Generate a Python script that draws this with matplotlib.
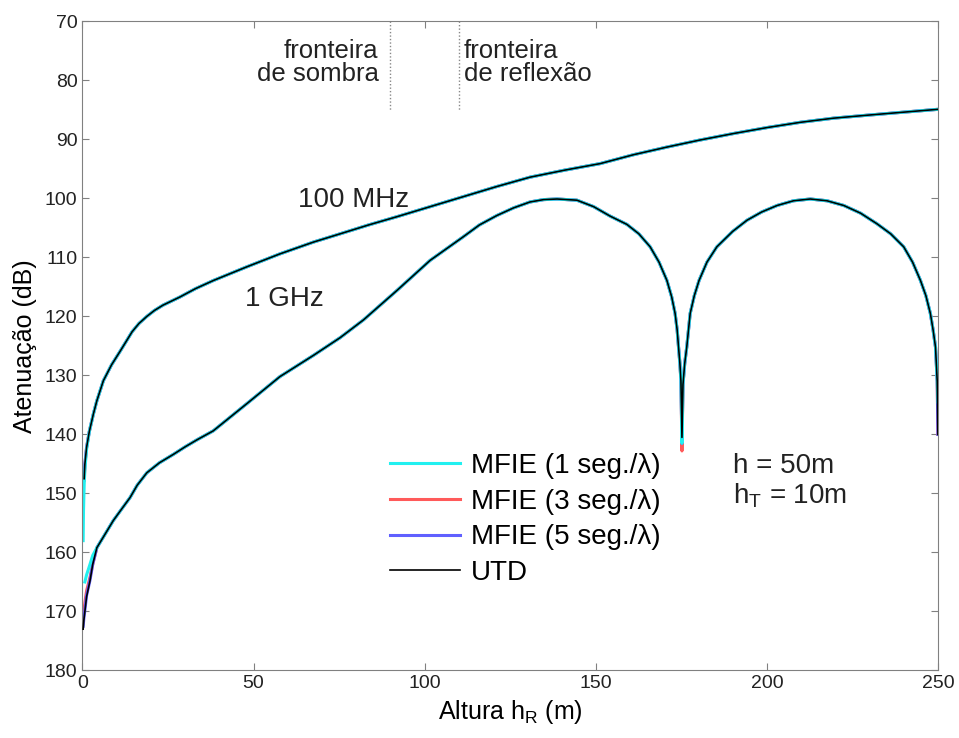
import numpy as np
import matplotlib
matplotlib.use("Agg")
from matplotlib import pyplot as plt

plt.rcParams['font.family'] = ['Liberation Sans', 'DejaVu Sans']
plt.rcParams['mathtext.fontset'] = 'custom'
plt.rcParams['mathtext.rm'] = 'Liberation Sans'
plt.rcParams['mathtext.it'] = 'Liberation Sans'

nan = np.nan

# 100 MHz - altura do receptor (m) e atenuação (dB)
h_100 = [0.2, 0.3, 0.5, 0.7, 1.2, 2.0, 3.2, 4.2, 6.1, 8.5, 11.0, 12.7, 14.5, 16.5,
         18.8, 21.0, 23.5, 28.5, 33.0, 38.3, 48.0, 57.7, 67.5, 75.3, 83.6, 91.9,
         101.6, 111.3, 121.0, 130.8, 141.0, 151.3, 161.0, 170.8, 180.5, 190.3,
         200.0, 209.8, 219.5, 229.3, 239.6, 250.0]
att_100_utd = [nan, nan, 147.5, 145.0, 142.2, 139.5, 136.5, 134.3, 130.9, 128.2,
               125.9, 124.3, 122.6, 121.2, 120.0, 119.0, 118.1, 116.7, 115.3, 113.9,
               111.6, 109.4, 107.4, 106.0, 104.5, 103.1, 101.4, 99.7, 98.0, 96.4,
               95.2, 94.1, 92.6, 91.3, 90.1, 89.0, 88.0, 87.1, 86.4, 85.9, 85.4, 84.9]
att_100_mfie1 = [158.0, 153.0, 148.5, 146.0, 142.5, 139.5, 136.5, 134.3, 130.9, 128.2,
                 125.9, 124.3, 122.6, 121.2, 120.0, 119.0, 118.1, 116.7, 115.3, 113.9,
                 111.6, 109.4, 107.4, 106.0, 104.5, 103.1, 101.4, 99.7, 98.0, 96.4,
                 95.2, 94.1, 92.6, 91.3, 90.1, 89.0, 88.0, 87.1, 86.4, 85.9, 85.4, 84.9]
att_100_mfie3 = [nan, nan, 147.8, 145.2, 142.2, 139.5, 136.5, 134.3, 130.9, 128.2,
                 125.9, 124.3, 122.6, 121.2, 120.0, 119.0, 118.1, 116.7, 115.3, 113.9,
                 111.6, 109.4, 107.4, 106.0, 104.5, 103.1, 101.4, 99.7, 98.0, 96.4,
                 95.2, 94.1, 92.6, 91.3, 90.1, 89.0, 88.0, 87.1, 86.4, 85.9, 85.4, 84.9]
att_100_mfie5 = [nan, nan, 147.5, 145.0, 142.2, 139.5, 136.5, 134.3, 130.9, 128.2,
                 125.9, 124.3, 122.6, 121.2, 120.0, 119.0, 118.1, 116.7, 115.3, 113.9,
                 111.6, 109.4, 107.4, 106.0, 104.5, 103.1, 101.4, 99.7, 98.0, 96.4,
                 95.2, 94.1, 92.6, 91.3, 90.1, 89.0, 88.0, 87.1, 86.4, 85.9, 85.4, 84.9]

# 1 GHz
h_1g = [0.2, 0.4, 0.7, 1.2, 2.2, 3.0, 4.2, 6.5, 9.0, 11.5, 13.9, 16.0, 18.8, 22.5,
        26.5, 30.0, 33.5, 38.2, 48.0, 57.7, 67.5, 75.3, 82.1, 91.9, 101.6, 111.3,
        116.0, 121.1, 126.0, 130.8, 134.8, 138.7, 144.5, 149.4, 154.2, 159.1,
        162.6, 165.9, 168.5, 170.8, 172.2, 173.2, 173.8, 174.2, 174.6, 174.9,
        175.2, 175.5, 176.0, 176.6, 177.6, 178.8, 180.2, 182.5, 185.4, 190.0,
        194.2, 198.5, 203.0, 207.8, 212.7, 217.6, 222.5, 227.4, 232.2, 236.2,
        240.0, 242.6, 244.9, 246.5, 247.8, 248.6, 249.3, 249.8, 250.0]
att_1g_utd = [173.0, 171.5, 170.0, 167.5, 164.8, 162.0, 159.2, 157.0, 154.6, 152.6,
              150.7, 148.6, 146.5, 144.8, 143.4, 142.1, 140.9, 139.4, 134.8, 130.2,
              126.6, 123.6, 120.6, 115.6, 110.5, 106.5, 104.5, 102.9, 101.6, 100.6,
              100.2, 100.1, 100.3, 101.4, 103.0, 104.4, 106.0, 108.2, 110.8, 113.9,
              116.7, 119.5, 122.3, 125.2, 128.0, 130.9, 140.5, 131.5, 128.0, 125.2,
              119.5, 116.5, 113.9, 110.8, 108.2, 105.6, 103.7, 102.3, 101.2, 100.4,
              100.1, 100.4, 101.2, 102.5, 104.3, 106.0, 108.2, 110.8, 113.9, 116.5,
              119.5, 122.3, 125.2, 131.0, 140.0]
att_1g_mfie1 = [nan, nan, 165.0, 163.8, 162.0, 160.5, 159.2, 157.0, 154.6, 152.6,
                150.7, 148.6, 146.5, 144.8, 143.4, 142.1, 140.9, 139.4, 134.8, 130.2,
                126.6, 123.6, 120.6, 115.6, 110.5, 106.5, 104.5, 102.9, 101.6, 100.6,
                100.2, 100.1, 100.3, 101.4, 103.0, 104.4, 106.0, 108.2, 110.8, 113.9,
                116.7, 119.5, 122.3, 125.2, 128.0, 130.9, 141.5, 131.5, 128.0, 125.2,
                119.5, 116.5, 113.9, 110.8, 108.2, 105.6, 103.7, 102.3, 101.2, 100.4,
                100.1, 100.4, 101.2, 102.5, 104.3, 106.0, 108.2, 110.8, 113.9, 116.5,
                119.5, 122.3, 125.2, 131.0, 134.5]
att_1g_mfie3 = [nan, 170.0, 168.5, 166.5, 164.2, 162.0, 159.2, 157.0, 154.6, 152.6,
                150.7, 148.6, 146.5, 144.8, 143.4, 142.1, 140.9, 139.4, 134.8, 130.2,
                126.6, 123.6, 120.6, 115.6, 110.5, 106.5, 104.5, 102.9, 101.6, 100.6,
                100.2, 100.1, 100.3, 101.4, 103.0, 104.4, 106.0, 108.2, 110.8, 113.9,
                116.7, 119.5, 122.3, 125.2, 128.0, 130.9, 142.8, 131.5, 128.0, 125.2,
                119.5, 116.5, 113.9, 110.8, 108.2, 105.6, 103.7, 102.3, 101.2, 100.4,
                100.1, 100.4, 101.2, 102.5, 104.3, 106.0, 108.2, 110.8, 113.9, 116.5,
                119.5, 122.3, 125.2, 131.0, 140.0]
att_1g_mfie5 = [172.5, 171.2, 169.8, 167.3, 164.7, 162.0, 159.2, 157.0, 154.6, 152.6,
                150.7, 148.6, 146.5, 144.8, 143.4, 142.1, 140.9, 139.4, 134.8, 130.2,
                126.6, 123.6, 120.6, 115.6, 110.5, 106.5, 104.5, 102.9, 101.6, 100.6,
                100.2, 100.1, 100.3, 101.4, 103.0, 104.4, 106.0, 108.2, 110.8, 113.9,
                116.7, 119.5, 122.3, 125.2, 128.0, 130.9, 141.5, 131.5, 128.0, 125.2,
                119.5, 116.5, 113.9, 110.8, 108.2, 105.6, 103.7, 102.3, 101.2, 100.4,
                100.1, 100.4, 101.2, 102.5, 104.3, 106.0, 108.2, 110.8, 113.9, 116.5,
                119.5, 122.3, 125.2, 131.0, 140.0]

labels = ['MFIE (1 seg./λ)', 'MFIE (3 seg./λ)', 'MFIE (5 seg./λ)', 'UTD']
colors = ['#22f0f0', '#ff5a5a', '#6060ff', 'black']
widths = [2.2, 2.2, 2.2, 1.2]
zorders = [2.5, 2.2, 2.3, 3]

fronteiras = [90, 110]

fig = plt.figure(figsize=(9.59, 7.38), dpi=100)
ax = fig.add_axes([0.086, 0.0915, 0.892, 0.8795])

series_100 = [att_100_mfie1, att_100_mfie3, att_100_mfie5, att_100_utd]
series_1g = [att_1g_mfie1, att_1g_mfie3, att_1g_mfie5, att_1g_utd]
for a100, a1g, lab, c, lw, z in zip(series_100, series_1g, labels, colors,
                                    widths, zorders):
    ax.plot(h_100, a100, color=c, lw=lw, label=lab, zorder=z)
    ax.plot(h_1g, a1g, color=c, lw=lw, zorder=z)

for f in fronteiras:
    ax.plot([f, f], [70, 85], color='#888888', lw=1, ls=(0, (1, 1.5)))

ax.set_xlim(0, 250)
ax.set_ylim(180, 70)
ax.set_xticks(np.arange(0, 251, 50))
ax.set_yticks(np.arange(70, 181, 10))
ax.tick_params(direction='in', top=True, right=True, length=5, labelsize=14,
               color='#808080', labelcolor='#222222')
for s in ax.spines.values():
    s.set_color('#808080')

ax.set_xlabel('Altura h$_\\mathrm{R}$ (m)', fontsize=18, labelpad=4)
ax.set_ylabel('Atenuação (dB)', fontsize=18, labelpad=6)

ax.text(63, 100.3, '100 MHz', fontsize=20, va='center', color='#222222')
ax.text(47.5, 117, '1 GHz', fontsize=20, va='center', color='#222222')
ax.text(86.5, 73.0, 'fronteira\nde sombra', fontsize=18.5, ha='right', va='top',
        linespacing=0.92, color='#222222')
ax.text(111.5, 73.0, 'fronteira\nde reflexão', fontsize=18.5, ha='left', va='top',
        linespacing=0.92, color='#222222')
ax.text(190, 145.3, 'h = 50m', fontsize=20, va='center', color='#222222')
ax.text(190, 150.4, 'h$_\\mathrm{T}$ = 10m', fontsize=20, va='center',
        color='#222222')

ax.legend(loc='upper left', bbox_to_anchor=(0.3596, 0.335), frameon=False,
          fontsize=20, handlelength=2.5, handletextpad=0.4, labelspacing=0.35,
          borderaxespad=0, borderpad=0)

fig.savefig('out.png', dpi=100)
